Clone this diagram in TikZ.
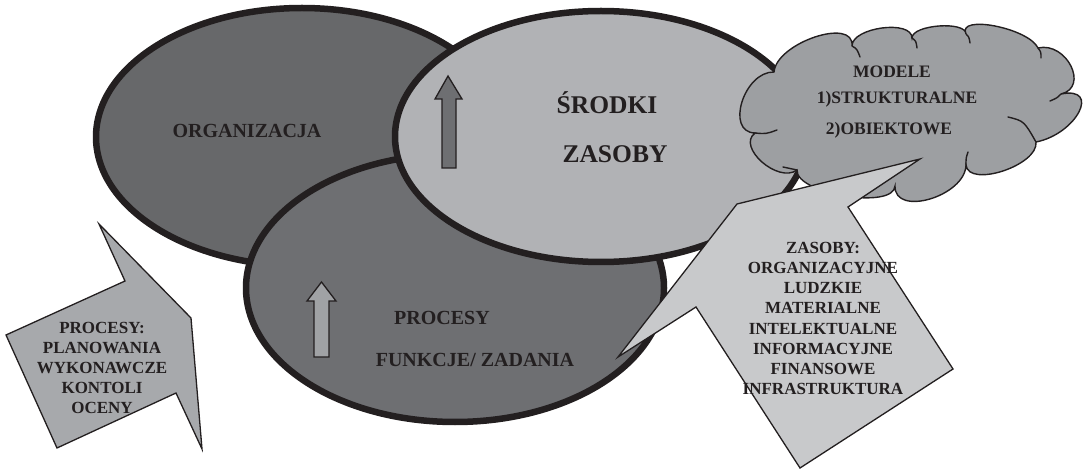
\documentclass[tikz,border=0pt]{standalone}
\usepackage{fontspec}
\setmainfont{Liberation Serif}
\usetikzlibrary{shapes.geometric,calc}
\definecolor{ink}{HTML}{231F20}
\definecolor{orgfill}{HTML}{67686A}
\definecolor{procfill}{HTML}{6E6F72}
\definecolor{srfill}{HTML}{B1B2B5}
\definecolor{cloudfill}{HTML}{9D9FA2}
\definecolor{calloutR}{HTML}{C8C9CB}
\definecolor{calloutL}{HTML}{A7A9AC}
\definecolor{uparrowA}{HTML}{6E6F72}
\definecolor{uparrowB}{HTML}{A0A2A5}
% one puff of the cloud: from #1 to #2, bulging through #3
\newcommand\puffto[3]{.. controls ($0.3333*(#1)+1.3333*(#3)-0.6667*(#2)$) and ($0.3333*(#2)+1.3333*(#3)-0.6667*(#1)$) .. (#2)}
\begin{document}
\begin{tikzpicture}[x=1pt,y=-1pt,
  blob/.style={ellipse, draw=ink, line width=6.5pt, inner sep=0pt},
  thinline/.style={draw=ink, line width=1.3pt, line join=miter},
  cloudline/.style={draw=ink, line width=1.4pt, line cap=round},
  bigtext/.style={text=ink, inner sep=0pt, font=\bfseries\fontsize{20}{24}\selectfont},
  hugetext/.style={text=ink, inner sep=0pt, font=\bfseries\fontsize{25.5}{30}\selectfont},
  listtext/.style={text=ink, inner sep=0pt, align=center, font=\bfseries\fontsize{17}{20.2}\selectfont},
]
\useasboundingbox (0,0) rectangle (1084,470);

% the three overlapping areas
\node[blob, fill=orgfill, minimum width=412pt, minimum height=258pt] (org) at (302,137) {};
\node[blob, fill=procfill, minimum width=418pt, minimum height=268pt] (proc) at (455,288) {};
\node[blob, fill=srfill, minimum width=412pt, minimum height=251pt] (srodki) at (601,136.5) {};

% upward arrows
\draw[thinline, fill=uparrowA] (448,76) -- (462,99) -- (456,99) -- (456,168) -- (442,168) -- (442,99) -- (435,99) -- cycle;
\draw[thinline, fill=uparrowB] (321.5,282) -- (336,301) -- (329,301) -- (329,357) -- (314,357) -- (314,301) -- (307,301) -- cycle;

% labels of the areas
\node[bigtext, anchor=base] (orgtxt) at (247,138) {ORGANIZACJA};
\node[hugetext, anchor=base] (srtxt1) at (607,114) {ŚRODKI};
\node[hugetext, anchor=base] (srtxt2) at (615,163) {ZASOBY};
\node[bigtext, anchor=base] (proctxt1) at (442,324) {PROCESY};
\node[bigtext, anchor=base] (proctxt2) at (475,366) {FUNKCJE/ ZADANIA};

% cloud of models: valleys v and puff tops p
\coordinate (v1) at (774,72);   \coordinate (p1) at (815,37);
\coordinate (v2) at (852,46);   \coordinate (p2) at (882,28);
\coordinate (v3) at (912,38);   \coordinate (p3) at (939,26);
\coordinate (v4) at (966,34);   \coordinate (p4) at (995,26);
\coordinate (v5) at (1038,48);  \coordinate (p5) at (1071,66);
\coordinate (v6) at (1061,94);  \coordinate (p6) at (1079,112);
\coordinate (v7) at (1036,142); \coordinate (p7) at (1003,171);
\coordinate (v8) at (966,165);  \coordinate (p8) at (930,199);
\coordinate (v9) at (895,186);  \coordinate (p9) at (845,196);
\coordinate (v10) at (797,170); \coordinate (p10) at (762,162);
\coordinate (v11) at (755,133); \coordinate (p11) at (742,102);
\draw[cloudline, fill=cloudfill, line join=miter]
  (v1) \puffto{v1}{v2}{p1} \puffto{v2}{v3}{p2} \puffto{v3}{v4}{p3}
  \puffto{v4}{v5}{p4} \puffto{v5}{v6}{p5} \puffto{v6}{v7}{p6}
  \puffto{v7}{v8}{p7} \puffto{v8}{v9}{p8} \puffto{v9}{v10}{p9}
  \puffto{v10}{v11}{p10} \puffto{v11}{v1}{p11} -- cycle;
% folds of the cloud
\draw[cloudline] (v2) .. controls (857,49) .. (860,57);
\draw[cloudline] (v3) .. controls (916,41) .. (917,48);
\draw[cloudline] (v4) .. controls (969,37) .. (970,43);
\draw[cloudline] (v5) .. controls (1041,52) .. (1041,58);
\draw[cloudline] (v6) .. controls (1057,98) .. (1050,101);
\draw[cloudline] (1008,117) .. controls (1024,121) .. (v7);
\draw[cloudline] (v8) .. controls (966,158) .. (968,152);
\draw[cloudline] (783,167) .. controls (790,168) .. (v10);
\draw[cloudline] (v11) .. controls (766,134) .. (777,130);
\node[listtext, font=\bfseries\fontsize{17.5}{20}\selectfont] (m1) at (892,72) {MODELE};
\node[listtext, font=\bfseries\fontsize{17.5}{20}\selectfont] (m2) at (897,99.5) {1)STRUKTURALNE};
\node[listtext, font=\bfseries\fontsize{17.5}{20}\selectfont] (m3) at (889,130) {2)OBIEKTOWE};

% callout of resources
\draw[thinline, fill=calloutR] (737,204) -- (920,159) -- (848,207) -- (953,369) -- (800,468) -- (696,307) -- (618,357) -- cycle;
\node[listtext] (zasoby) at (823,318.5) {ZASOBY:\\ORGANIZACYJNE\\LUDZKIE\\MATERIALNE\\INTELEKTUALNE\\INFORMACYJNE\\FINANSOWE\\INFRASTRUKTURA};

% callout of processes
\draw[thinline, fill=calloutL] (6,335) -- (125,281) -- (99,224) -- (191,318) -- (202,449) -- (176,393) -- (57,448) -- cycle;
\node[listtext] (procesy) at (102,368) {PROCESY:\\PLANOWANIA\\WYKONAWCZE\\KONTOLI\\OCENY};
\end{tikzpicture}
\end{document}
